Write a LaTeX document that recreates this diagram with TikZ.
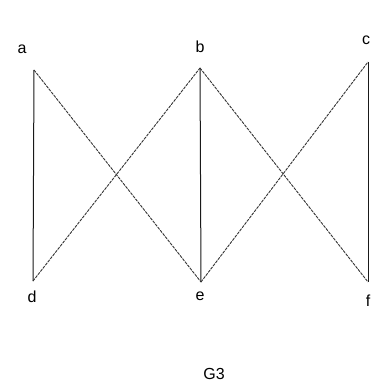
\documentclass[tikz,border=0pt]{standalone}
\usepackage{fontspec}
\setmainfont{Liberation Sans}
\usetikzlibrary{positioning}

\begin{document}
\begin{tikzpicture}[x=1pt,y=-1pt,
  lbl/.style={font=\fontsize{16}{19}\selectfont,inner sep=0pt,anchor=base},
  side/.style={line width=1pt,black!90},
  cross/.style={line width=0.9pt,black!80,dash pattern=on 3pt off 1pt}]
\useasboundingbox (0,0) rectangle (374,385);
% vertices
\coordinate (a) at (34,70);
\coordinate (b) at (200,68);
\coordinate (c) at (368,62);
\coordinate (d) at (33,281);
\coordinate (e) at (201,282);
\coordinate (f) at (368,282);
% labels
\node[lbl] (la) at (22,54) {a};
\node[lbl] (lb) at (200,53) {b};
\node[lbl] (lc) at (366,45) {c};
\node[lbl] (ld) at (32,302) {d};
\node[lbl] (le) at (200,300) {e};
\node[lbl] (lf) at (368,306) {f};
\node[lbl] (g3) at (214,379) {G3};
% edges
\draw[side] (a) -- (d);
\draw[side] (b) -- (e);
\draw[side] (c) -- (f);
\draw[cross] (a) -- (e);
\draw[cross] (d) -- (b);
\draw[cross] (b) -- (f);
\draw[cross] (e) -- (c);
\end{tikzpicture}
\end{document}
